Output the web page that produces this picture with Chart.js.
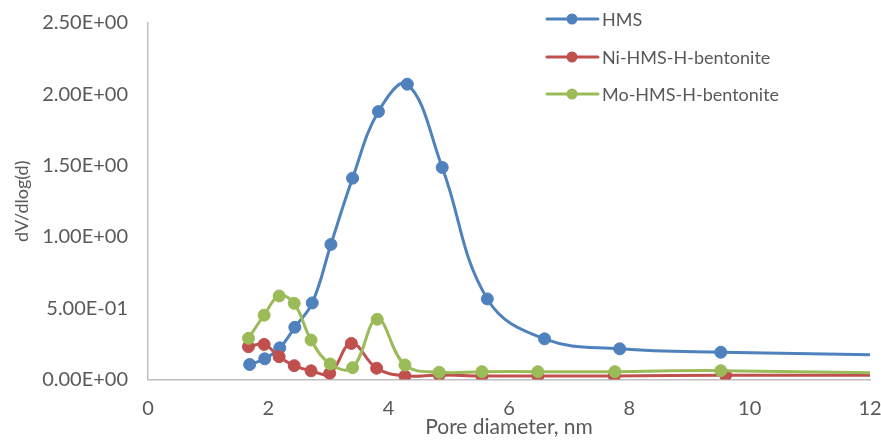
<!DOCTYPE html>
<html>
<head>
<meta charset="utf-8">
<script src="https://cdn.jsdelivr.net/npm/chart.js@4/dist/chart.umd.min.js"></script>
<style>
  html, body { margin: 0; padding: 0; background: #ffffff; }
  #wrap { width: 881px; height: 440px; }
</style>
</head>
<body>
<div id="wrap"><canvas id="c" width="881" height="440"></canvas></div>
<script>
// ---- data ----
const seriesNames = ["HMS", "Ni-HMS-H-bentonite", "Mo-HMS-H-bentonite"];

const hmsX = [1.69, 1.94, 2.19, 2.44, 2.73, 3.04, 3.40, 3.83, 4.31, 4.89, 5.64, 6.59, 7.84, 9.52, 14.0];
const hmsY = [0.105, 0.145, 0.222, 0.366, 0.537, 0.947, 1.412, 1.879, 2.071, 1.487, 0.565, 0.285, 0.215, 0.191, 0.162];

const niX = [1.67, 1.93, 2.18, 2.43, 2.71, 3.02, 3.38, 3.80, 4.27, 4.84, 5.55, 6.48, 7.75, 9.60, 14.0];
const niY = [0.230, 0.246, 0.160, 0.097, 0.061, 0.043, 0.253, 0.079, 0.025, 0.032, 0.025, 0.025, 0.025, 0.030, 0.030];

const moX = [1.67, 1.93, 2.18, 2.43, 2.71, 3.03, 3.40, 3.81, 4.27, 4.84, 5.55, 6.48, 7.76, 9.52, 14.0];
const moY = [0.289, 0.451, 0.586, 0.534, 0.277, 0.109, 0.083, 0.422, 0.102, 0.051, 0.055, 0.055, 0.055, 0.062, 0.031];

const xTicks = [0, 2, 4, 6, 8, 10, 12];
const yTicks = [0, 0.5, 1.0, 1.5, 2.0, 2.5];

const colors = ["#4F81BD", "#C0504D", "#9BBB59"];
const FONT = "Lato";
const TXT = "#595959";

function pts(xs, ys) { return xs.map((x, i) => ({ x: x, y: ys[i] })); }

function expLabel(v) {
  const s = Number(v).toExponential(2); // e.g. 2.50e+0
  const m = s.split("e");
  const sign = m[1][0];
  let e = m[1].slice(1);
  if (e.length < 2) e = "0" + e;
  return m[0] + "E" + sign + e;
}

function ds(i, xs, ys, order) {
  return {
    label: seriesNames[i],
    data: pts(xs, ys),
    showLine: true,
    borderColor: colors[i],
    backgroundColor: colors[i],
    borderWidth: 3,
    pointRadius: 6,
    pointBorderWidth: 1,
    pointBorderColor: colors[i],
    pointBackgroundColor: colors[i],
    tension: 0.4,
    order: order
  };
}

const legendPlugin = {
  id: "customLegend",
  afterDraw(chart) {
    const ctx = chart.ctx;
    const items = chart.data.datasets;
    const x0 = 547, x1 = 598, mx = 572, tx = 602;
    const ys = [19, 57, 94];
    ctx.save();
    items.forEach((d, i) => {
      const y = ys[i];
      ctx.strokeStyle = d.borderColor;
      ctx.lineWidth = 3;
      ctx.lineCap = "round";
      ctx.beginPath();
      ctx.moveTo(x0, y);
      ctx.lineTo(x1, y);
      ctx.stroke();
      ctx.fillStyle = d.borderColor;
      ctx.beginPath();
      ctx.arc(mx, y, 5.5, 0, Math.PI * 2);
      ctx.fill();
      ctx.fillStyle = TXT;
      ctx.font = "18px " + FONT;
      ctx.textAlign = "left";
      ctx.textBaseline = "middle";
      ctx.fillText(d.label, tx, y + 1);
    });
    ctx.restore();
  }
};

new Chart(document.getElementById("c"), {
  type: "scatter",
  data: {
    datasets: [
      ds(0, hmsX, hmsY, 2),
      ds(1, niX, niY, 1),
      ds(2, moX, moY, 0)
    ]
  },
  options: {
    responsive: false,
    animation: false,
    layout: { padding: { top: 23, right: 11, left: 0, bottom: 0 } },
    plugins: {
      legend: { display: false },
      tooltip: { enabled: false }
    },
    scales: {
      x: {
        type: "linear",
        min: 0, max: 12,
        afterBuildTicks(scale) { scale.ticks = xTicks.map(v => ({ value: v })); },
        afterFit(scale) { scale.height = 60.5; scale.paddingLeft = 0; scale.paddingRight = 0; },
        grid: { display: true, drawOnChartArea: false, drawTicks: false, color: "#BFBFBF" },
        border: { display: true, color: "#BFBFBF", width: 1.5 },
        ticks: { color: TXT, font: { family: FONT, size: 20 }, padding: 17, maxRotation: 0 },
        title: { display: true, text: "Pore diameter, nm", color: TXT, font: { family: FONT, size: 21 }, padding: { top: 0, bottom: 0 } }
      },
      y: {
        type: "linear",
        min: 0, max: 2.5,
        afterBuildTicks(scale) { scale.ticks = yTicks.map(v => ({ value: v })); },
        afterFit(scale) { scale.width = 148; scale.paddingTop = 0; scale.paddingBottom = 0; },
        grid: { display: true, drawOnChartArea: false, drawTicks: false, color: "#BFBFBF" },
        border: { display: true, color: "#BFBFBF", width: 1.5 },
        ticks: { color: TXT, font: { family: FONT, size: 20 }, padding: 20, callback: v => expLabel(v) },
        title: { display: true, text: "dV/dlog(d)", color: TXT, font: { family: FONT, size: 18 }, padding: { top: 11, bottom: 0 } }
      }
    }
  },
  plugins: [legendPlugin]
});
</script>
</body>
</html>
